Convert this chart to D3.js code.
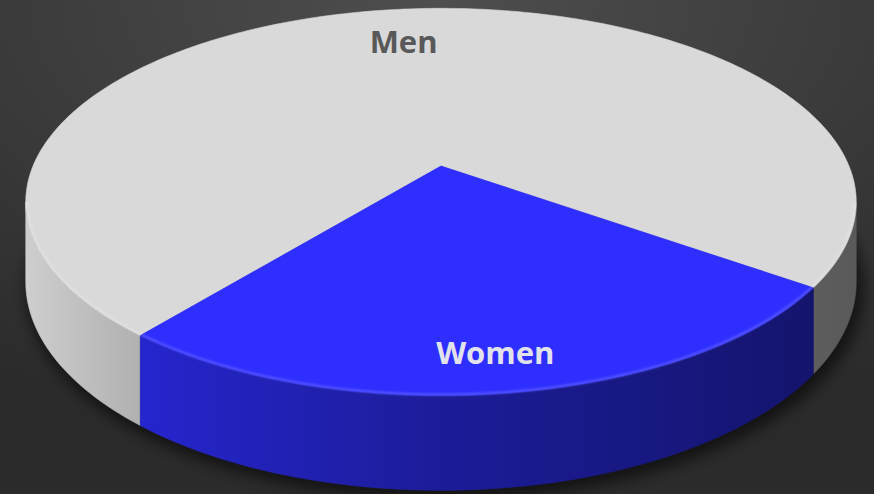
<!DOCTYPE html>
<html>
<head>
<meta charset="utf-8">
<script src="https://cdn.jsdelivr.net/npm/d3@7"></script>
<style>
  html, body { margin: 0; padding: 0; background: #333; }
  svg { display: block; }
</style>
</head>
<body>
<svg id="chart"></svg>
<script>
const categories = ["Men", "Women"];
const values = [74, 26];
const colors = ["#d9d9d9", "#2e2eff"];
const labelColors = ["#595959", "#e2e2ea"];

const width = 874;
const height = 494;

// perspective disk: centre, radii, foreshortening, thickness
const cx = 441, cy = 166;
const rx = 408, ry = 187;
const k = 0.186;
const depth = 77;

const rad = deg => deg * Math.PI / 180;

function project(a, r, bottom) {
    const u = r * Math.sin(a);
    const v = -r * Math.cos(a);
    const w = 1 - k * v;
    return [cx + rx * u / w, cy + ry * v / w + (bottom ? depth / w : 0)];
}

function arcPoints(a0, a1, r, bottom) {
    const n = Math.max(2, Math.ceil(Math.abs(a1 - a0) / rad(1)));
    const pts = [];
    for (let i = 0; i <= n; i++) {
        pts.push(project(a0 + (a1 - a0) * i / n, r, bottom));
    }
    return pts;
}

const svg = d3.select('#chart')
    .attr('width', width)
    .attr('height', height)
    .attr('viewBox', [0, 0, width, height]);

const defs = svg.append('defs');

const bg = defs.append('radialGradient')
    .attr('id', 'bg')
    .attr('cx', '50%').attr('cy', '0%').attr('r', '90%');
bg.append('stop').attr('offset', '0%').attr('stop-color', '#4e4e4e');
bg.append('stop').attr('offset', '100%').attr('stop-color', '#2b2b2b');

svg.append('rect')
    .attr('width', width)
    .attr('height', height)
    .attr('fill', 'url(#bg)');

defs.append('filter')
    .attr('id', 'blur')
    .attr('x', '-20%').attr('y', '-20%').attr('width', '140%').attr('height', '140%')
    .append('feGaussianBlur')
    .attr('stdDeviation', 7);

defs.append('filter')
    .attr('id', 'soft')
    .append('feGaussianBlur')
    .attr('stdDeviation', 0.8);

// side shading goes darker from left to right
const shade = [[0, 0.95], [0.15, 0.8], [0.5, 0.6], [1, 0.41]];
colors.forEach((c, i) => {
    const g = defs.append('linearGradient')
        .attr('id', 'side' + i)
        .attr('gradientUnits', 'userSpaceOnUse')
        .attr('x1', cx - rx * 1.02).attr('x2', cx + rx * 1.02)
        .attr('y1', 0).attr('y2', 0);
    const base = d3.rgb(c);
    shade.forEach(([o, f]) => {
        g.append('stop')
            .attr('offset', o)
            .attr('stop-color', d3.rgb(base.r * f, base.g * f, base.b * f).formatHex());
    });
});

const pie = d3.pie()
    .value(d => d)
    .sort(null)
    .startAngle(rad(219.1))
    .endAngle(rad(219.1) + 2 * Math.PI);

const slices = pie(values);
const line = d3.line();

// visible outer wall: between the two silhouette points
const vis0 = Math.PI / 2 + Math.asin(k);
const vis1 = 3 * Math.PI / 2 - Math.asin(k);

// soft shadow under the base
svg.append('path')
    .attr('d', line(arcPoints(0, 2 * Math.PI, 1.01, true)) + 'Z')
    .attr('fill', '#000')
    .attr('opacity', 0.55)
    .attr('transform', 'translate(4, 6)')
    .attr('filter', 'url(#blur)');

const walls = svg.append('g');
slices.forEach((s, i) => {
    [0, 2 * Math.PI].forEach(off => {
        const a0 = Math.max(s.startAngle, vis0 + off);
        const a1 = Math.min(s.endAngle, vis1 + off);
        if (a1 <= a0) return;
        const pts = arcPoints(a0, a1, 1, false)
            .concat(arcPoints(a1, a0, 1, true));
        walls.append('path')
            .attr('d', line(pts) + 'Z')
            .attr('fill', `url(#side${i})`)
            .attr('stroke', `url(#side${i})`)
            .attr('stroke-width', 0.6);
    });
});

const tops = svg.append('g');
slices.forEach((s, i) => {
    const pts = [project(0, 0, false)].concat(arcPoints(s.startAngle, s.endAngle, 1, false));
    tops.append('path')
        .attr('d', line(pts) + 'Z')
        .attr('fill', colors[i])
        .attr('stroke', colors[i])
        .attr('stroke-width', 0.6);
});

// rim highlight on the front edge
svg.append('path')
    .attr('d', line(arcPoints(vis0, vis1, 0.996, false)))
    .attr('fill', 'none')
    .attr('stroke', '#fff')
    .attr('stroke-opacity', 0.22)
    .attr('stroke-width', 2)
    .attr('filter', 'url(#soft)');

// labels, part of the way from apex to rim
const apex = project(0, 0, false);
slices.forEach((s, i) => {
    const mid = (s.startAngle + s.endAngle) / 2;
    const edge = project(mid, 1, false);
    const t = 0.81;
    svg.append('text')
        .attr('x', apex[0] + (edge[0] - apex[0]) * t)
        .attr('y', apex[1] + (edge[1] - apex[1]) * t + 2)
        .attr('text-anchor', 'middle')
        .attr('dominant-baseline', 'central')
        .attr('font-family', '"Open Sans", sans-serif')
        .attr('font-weight', 700)
        .attr('font-size', 31)
        .attr('fill', labelColors[i])
        .text(categories[i]);
});
</script>
</body>
</html>
